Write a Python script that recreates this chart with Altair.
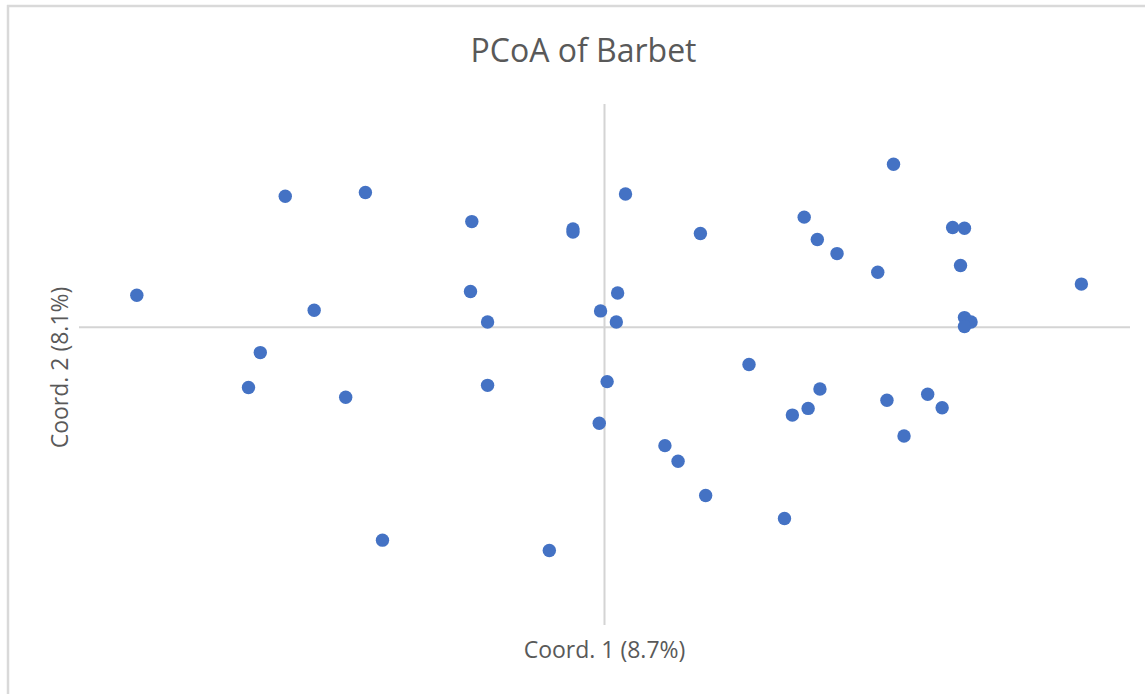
import altair as alt
import pandas as pd

# PCoA scores for the Barbet samples (Coord. 1, Coord. 2)
coord1 = [
    -0.356, -0.243, -0.182, -0.221, -0.262, -0.271, -0.197, -0.169,
    -0.101, -0.102, -0.089, -0.089, -0.024, -0.024, 0.016, 0.010,
    -0.003, 0.009, 0.002, -0.004, -0.042, 0.073, 0.046, 0.056,
    0.077, 0.137, 0.110, 0.152, 0.162, 0.177, 0.220, 0.208,
    0.265, 0.274, 0.271, 0.363, 0.274, 0.279, 0.274, 0.164,
    0.155, 0.143, 0.215, 0.246, 0.257, 0.228,
]
coord2 = [
    0.043, 0.176, 0.181, 0.023, -0.034, -0.081, -0.094, -0.286,
    0.142, 0.048, 0.007, -0.078, 0.132, 0.128, 0.179, 0.046,
    0.022, 0.007, -0.073, -0.129, -0.300, 0.126, -0.159, -0.180,
    -0.226, -0.257, -0.050, 0.148, 0.118, 0.099, 0.219, 0.074,
    0.134, 0.133, 0.083, 0.058, 0.013, 0.007, 0.001, -0.083,
    -0.109, -0.118, -0.098, -0.090, -0.108, -0.146,
]

title_text = "PCoA of Barbet"
x_title = "Coord. 1 (8.7%)"
y_title = "Coord. 2 (8.1%)"

FONT = "Open Sans"
TEXT_GREY = "#595959"
LINE_GREY = "#d4d4d4"
FRAME_GREY = "#d9d9d9"
BLUE = "#4472C4"

W, H = 1051, 521
PAD_L, PAD_T = 79, 104

df = pd.DataFrame({"c1": coord1, "c2": coord2})

xscale = alt.Scale(domain=[-0.4, 0.4], nice=False, zero=False)
yscale = alt.Scale(domain=[-0.4, 0.3], nice=False, zero=False)

xaxis = alt.Axis(
    title=x_title, domain=False, ticks=False, labels=False, grid=False,
    titleX=525, titleY=32, titleBaseline="alphabetic", titleAlign="center",
    titleFont=FONT, titleFontSize=23, titleFontWeight="normal", titleColor=TEXT_GREY,
)
yaxis = alt.Axis(
    title=y_title, domain=False, ticks=False, labels=False, grid=False,
    titleX=-19, titleY=263, titleAngle=-90, titleBaseline="middle", titleAlign="center",
    titleFont=FONT, titleFontSize=23, titleFontWeight="normal", titleColor=TEXT_GREY,
)

one = pd.DataFrame({"k": [0]})

# axes crossing at the origin
vline = alt.Chart(one).mark_rule(color=LINE_GREY, strokeWidth=2).encode(
    x=alt.X(datum=0, type="quantitative", scale=xscale, axis=xaxis)
)
hline = alt.Chart(one).mark_rule(color=LINE_GREY, strokeWidth=2).encode(
    y=alt.Y(datum=0, type="quantitative", scale=yscale, axis=yaxis)
)

points = alt.Chart(df).mark_circle(size=180, color=BLUE, opacity=1).encode(
    x=alt.X("c1:Q", scale=xscale, axis=xaxis),
    y=alt.Y("c2:Q", scale=yscale, axis=yaxis),
)

# chart-area frame (top and left edges)
FRAME_TOP = 6
frame_left = alt.Chart(one).mark_rule(color=FRAME_GREY, strokeWidth=2.5).encode(
    x=alt.value(8 - PAD_L), y=alt.value(5 - PAD_T), y2=alt.value(694 - PAD_T)
)
frame_top = alt.Chart(one).mark_rule(color=FRAME_GREY, strokeWidth=2.5).encode(
    y=alt.value(FRAME_TOP - PAD_T), x=alt.value(7 - PAD_L), x2=alt.value(1145 - PAD_L)
)

# the title sits relative to the top of the frame (the layer's upper bound)
chart = (
    alt.layer(frame_left, frame_top, vline, hline, points)
    .properties(
        width=W,
        height=H,
        title=alt.TitleParams(
            title_text, anchor="middle", font=FONT, fontSize=32, fontWeight="normal",
            color=TEXT_GREY, baseline="alphabetic", offset=0, dx=-21, dy=90,
        ),
        autosize=alt.AutoSizeParams(type="none"),
        padding={"left": PAD_L, "top": PAD_T, "right": 15, "bottom": 69},
    )
    .configure(background="white", view=alt.ViewConfig(stroke=None))
)

chart.save("out.html", embed_options={"renderer": "svg", "actions": False})
